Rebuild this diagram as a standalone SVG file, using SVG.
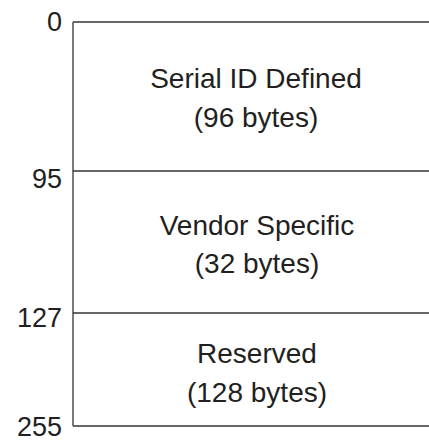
<svg xmlns="http://www.w3.org/2000/svg" width="429" height="441" viewBox="0 0 429 441">
<style>
.ln{stroke:#333;stroke-width:1.3;fill:none}
.t{font-family:"Liberation Sans",Arial,sans-serif;font-size:28px;fill:#231f20;text-anchor:middle}
.n{font-family:"Liberation Sans",Arial,sans-serif;font-size:27px;fill:#231f20;text-anchor:end}
</style>
<rect width="429" height="441" fill="#fff"/>
<g id="connectors">
<line class="ln" x1="73" y1="22" x2="73" y2="426"/>
<line class="ln" x1="73" y1="22" x2="429" y2="22"/>
<line class="ln" x1="73" y1="171" x2="429" y2="171"/>
<line class="ln" x1="73" y1="313" x2="429" y2="313"/>
<line class="ln" x1="73" y1="426" x2="429" y2="426"/>
</g>
<g id="serial"><text class="t" x="256" y="88">Serial ID Defined</text><text class="t" x="256" y="127">(96 bytes)</text></g>
<g id="vendor"><text class="t" x="257" y="235">Vendor Specific</text><text class="t" x="257" y="273">(32 bytes)</text></g>
<g id="reserved"><text class="t" x="257" y="363">Reserved</text><text class="t" x="257" y="402">(128 bytes)</text></g>
<g id="labels">
<text class="n" x="62" y="31">0</text>
<text class="n" x="62" y="188">95</text>
<text class="n" x="62" y="327">127</text>
<text class="n" x="62" y="436">255</text>
</g>
</svg>
